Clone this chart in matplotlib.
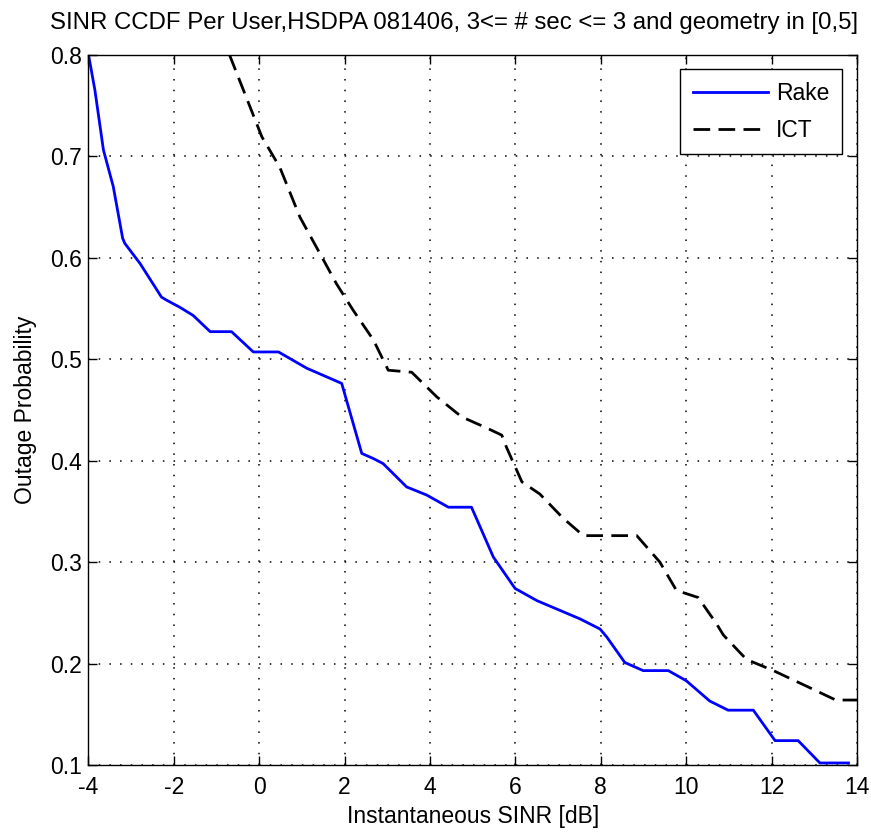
import matplotlib
matplotlib.use("Agg")
import matplotlib.pyplot as plt
from matplotlib.ticker import FormatStrFormatter

rake_x = [-4.0, -3.85, -3.65, -3.42, -3.2, -3.15, -2.79, -2.29, -2.17, -1.86, -1.55, -1.15, -0.65,
          -0.14, 0.45, 1.11, 1.93, 2.40, 2.67, 2.90, 3.45, 3.92, 4.43, 4.97, 5.48, 5.99, 6.5,
          7.51, 7.98, 8.14, 8.56, 8.99, 9.58, 10.0, 10.55, 10.98, 11.57, 12.08, 12.62, 13.13, 13.8]
rake_y = [0.800, 0.765, 0.706, 0.670, 0.619, 0.614, 0.594, 0.561, 0.558, 0.551, 0.543, 0.527, 0.527,
          0.507, 0.507, 0.491, 0.476, 0.407, 0.402, 0.397, 0.374, 0.366, 0.354, 0.354, 0.305, 0.274, 0.262,
          0.244, 0.234, 0.226, 0.201, 0.193, 0.193, 0.183, 0.163, 0.154, 0.154, 0.124, 0.124, 0.102, 0.102]

ict_x = [-0.7, 0.06, 0.48, 0.95, 1.42, 1.81, 2.2, 2.67, 3.02, 3.57, 4.15, 4.74, 5.33, 5.68, 5.79,
         6.15, 6.57, 7.12, 7.59, 8.84, 9.38, 9.77, 10.28, 10.71, 10.87, 11.41, 12.04, 12.9, 13.5, 14.0]
ict_y = [0.800, 0.719, 0.689, 0.640, 0.604, 0.574, 0.548, 0.519, 0.489, 0.487, 0.463, 0.443, 0.432, 0.425, 0.413,
         0.379, 0.367, 0.343, 0.326, 0.326, 0.300, 0.272, 0.265, 0.239, 0.228, 0.204, 0.193, 0.176, 0.164, 0.164]

x_ticks = [-4, -2, 0, 2, 4, 6, 8, 10, 12, 14]
y_ticks = [0.1, 0.2, 0.3, 0.4, 0.5, 0.6, 0.7, 0.8]

title = 'SINR CCDF Per User,HSDPA 081406, 3<= # sec <= 3 and geometry in [0,5]'

plt.rcParams['font.family'] = ['Liberation Sans', 'DejaVu Sans']
plt.rcParams['axes.unicode_minus'] = False

FS = 16.5

fig = plt.figure(figsize=(8.71, 8.40), dpi=100)
ax = fig.add_axes([0.1016, 0.0893, 0.8824, 0.8457])

ax.plot(rake_x, rake_y, color='#0000ff', lw=2.0, label='Rake')
ax.plot(ict_x, ict_y, color='black', lw=2.0, ls=(0, (6, 3)), label='ICT')

ax.set_xlim(-4, 14)
ax.set_ylim(0.1, 0.8)
ax.set_xticks(x_ticks)
ax.set_yticks(y_ticks)
ax.yaxis.set_major_formatter(FormatStrFormatter('%.1f'))
ax.grid(True, color='black', ls=(0, (1, 6)), lw=1.1)
ax.tick_params(direction='in', top=True, right=True, labelsize=FS, length=6.5, width=1)
ax.tick_params(axis='x', pad=8)
ax.tick_params(axis='y', pad=5)
for s in ax.spines.values():
    s.set_linewidth(1.0)

ax.set_xlabel('Instantaneous SINR [dB]', fontsize=FS, labelpad=4)
ax.set_ylabel('Outage Probability', fontsize=FS, labelpad=9)
fig.text(0.521, 1 - 29 / 840, title, fontsize=17.3, ha='center', va='baseline')

leg = ax.legend(loc='upper right', fontsize=FS, handlelength=3.3, fancybox=False,
                edgecolor='black', framealpha=1, borderaxespad=0.65, handletextpad=0.35,
                borderpad=0.55, labelspacing=0.6)
leg.get_frame().set_linewidth(1.0)

fig.savefig('out.png', dpi=100)
